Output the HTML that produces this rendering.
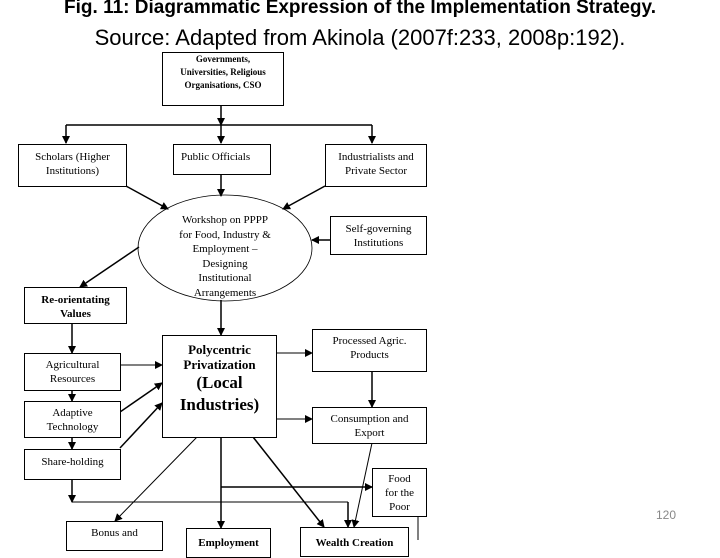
<!DOCTYPE html>
<html><head><meta charset="utf-8"><style>
body{margin:0;width:720px;height:540px;overflow:hidden;background:#fff;position:relative;font-family:"Liberation Serif",serif}
.t{position:absolute;left:0;width:720px;text-align:center;font-family:"Liberation Sans",sans-serif;color:#000}
.b{position:absolute;border:1px solid #000;box-sizing:border-box;text-align:center;font-size:11px;line-height:14px;background:#fff}
</style></head><body>
<div class="t" style="top:-3px;font-size:19px;font-weight:bold;">Fig. 11: Diagrammatic Expression of the Implementation Strategy.</div>
<div class="t" style="top:25px;font-size:22px;">Source: Adapted from Akinola (2007f:233, 2008p:192).</div>
<svg width="720" height="540" style="position:absolute;left:0;top:0">
<defs><marker id="a" markerWidth="8" markerHeight="8" refX="7" refY="4" orient="auto" markerUnits="userSpaceOnUse"><path d="M0,0 L8,4 L0,8 z"/></marker></defs>
<g stroke="#000" stroke-width="1.5" fill="none">
<line x1="221" y1="105" x2="221" y2="125" marker-end="url(#a)"/>
<line x1="66" y1="125" x2="372" y2="125"/>
<line x1="66" y1="125" x2="66" y2="143" marker-end="url(#a)"/>
<line x1="221" y1="125" x2="221" y2="143" marker-end="url(#a)"/>
<line x1="372" y1="125" x2="372" y2="143" marker-end="url(#a)"/>
<line x1="126" y1="186" x2="168" y2="209" marker-end="url(#a)"/>
<line x1="221" y1="174" x2="221" y2="196" marker-end="url(#a)"/>
<line x1="325" y1="186" x2="283" y2="209" marker-end="url(#a)"/>
<line x1="330" y1="240" x2="312" y2="240" marker-end="url(#a)"/>
<line x1="139" y1="247" x2="80" y2="287" marker-end="url(#a)"/>
<line x1="221" y1="300" x2="221" y2="335" marker-end="url(#a)"/>
<line x1="72" y1="323" x2="72" y2="353" marker-end="url(#a)"/>
<line x1="72" y1="390" x2="72" y2="401" marker-end="url(#a)"/>
<line x1="72" y1="437" x2="72" y2="449" marker-end="url(#a)"/>
<line x1="72" y1="479" x2="72" y2="502" marker-end="url(#a)"/>
<line x1="72" y1="502" x2="348" y2="502" stroke-width="1"/>
<line x1="348" y1="502" x2="348" y2="527" marker-end="url(#a)"/>
<line x1="120" y1="365" x2="162" y2="365" stroke-width="1" marker-end="url(#a)"/>
<line x1="120" y1="412" x2="162" y2="383" marker-end="url(#a)"/>
<line x1="120" y1="448" x2="162" y2="403" marker-end="url(#a)"/>
<line x1="276" y1="353" x2="312" y2="353" stroke-width="1" marker-end="url(#a)"/>
<line x1="276" y1="419" x2="312" y2="419" stroke-width="1" marker-end="url(#a)"/>
<line x1="372" y1="371" x2="372" y2="407" marker-end="url(#a)"/>
<line x1="221" y1="487" x2="372" y2="487" marker-end="url(#a)"/>
<line x1="372" y1="443" x2="354" y2="527" stroke-width="1" marker-end="url(#a)"/>
<line x1="221" y1="437" x2="221" y2="528" marker-end="url(#a)"/>
<line x1="253" y1="437" x2="324" y2="527" marker-end="url(#a)"/>
<line x1="197" y1="437" x2="115" y2="521" stroke-width="1" marker-end="url(#a)"/>
<line x1="418" y1="513" x2="418" y2="540" stroke-width="1"/>
</g>
<ellipse cx="225" cy="248" rx="87" ry="53" fill="none" stroke="#000" stroke-width="0.8"/>
<text x="656" y="519" font-family="Liberation Sans" font-size="12" fill="#888">120</text>
</svg>
<div class="b" style="left:162px;top:52px;width:122px;height:54px;font-size:9px;line-height:13px;font-weight:bold;padding-top:0">Governments,<br>Universities, Religious<br>Organisations, CSO</div>
<div class="b" style="left:18px;top:144px;width:109px;height:43px;padding-top:5px">Scholars (Higher<br>Institutions)</div>
<div class="b" style="left:173px;top:144px;width:98px;height:31px;padding-top:5px;text-align:left;padding-left:7px">Public Officials</div>
<div class="b" style="left:325px;top:144px;width:102px;height:43px;padding-top:5px">Industrialists and<br>Private Sector</div>
<div style="position:absolute;left:160px;top:213px;width:130px;text-align:center;font-size:11px;line-height:14.5px">Workshop on PPPP<br>for Food, Industry &amp;<br>Employment –<br>Designing<br>Institutional<br>Arrangements</div>
<div class="b" style="left:330px;top:216px;width:97px;height:39px;padding-top:5px">Self-governing<br>Institutions</div>
<div class="b" style="left:24px;top:287px;width:103px;height:37px;padding-top:5px;font-weight:bold">Re-orientating<br>Values</div>
<div class="b" style="left:162px;top:335px;width:115px;height:103px;padding-top:6px;font-weight:bold;font-size:13px;line-height:15px">Polycentric<br>Privatization<br><span style="font-size:17px;line-height:22px">(Local<br>Industries)</span></div>
<div class="b" style="left:24px;top:353px;width:97px;height:38px;padding-top:4px">Agricultural<br>Resources</div>
<div class="b" style="left:24px;top:401px;width:97px;height:37px;padding-top:4px">Adaptive<br>Technology</div>
<div class="b" style="left:24px;top:449px;width:97px;height:31px;padding-top:5px">Share-holding</div>
<div class="b" style="left:312px;top:329px;width:115px;height:43px;padding-top:4px">Processed Agric.<br>Products</div>
<div class="b" style="left:312px;top:407px;width:115px;height:37px;padding-top:4px">Consumption and<br>Export</div>
<div class="b" style="left:372px;top:468px;width:55px;height:49px;padding-top:3px">Food<br>for the<br>Poor</div>
<div class="b" style="left:66px;top:521px;width:97px;height:30px;padding-top:4px">Bonus and</div>
<div class="b" style="left:186px;top:528px;width:85px;height:30px;padding-top:7px;font-weight:bold">Employment</div>
<div class="b" style="left:300px;top:527px;width:109px;height:30px;padding-top:8px;font-weight:bold">Wealth Creation</div>
</body></html>
